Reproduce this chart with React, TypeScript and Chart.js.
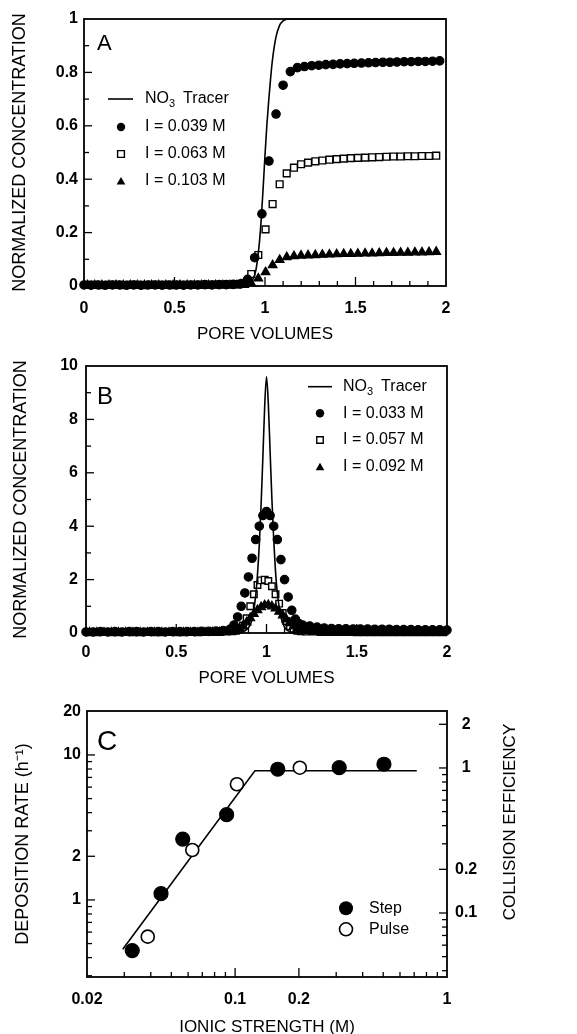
import React, { useEffect, useRef } from "react";
import { Chart, registerables } from "chart.js";

Chart.register(...registerables);

const FONT = "'Liberation Sans', Arial, Helvetica, sans-serif";
Chart.defaults.font.family = FONT;
Chart.defaults.color = "#000";

// ---------------- Panel A (step input) ----------------
const A_X = [0, 0.039, 0.079, 0.118, 0.157, 0.197, 0.236, 0.275, 0.314, 0.354, 0.393, 0.432, 0.472, 0.511, 0.55, 0.59, 0.629, 0.668, 0.707, 0.747, 0.786, 0.825, 0.865, 0.904, 0.943, 0.983, 1.022, 1.061, 1.1, 1.14, 1.179, 1.218, 1.258, 1.297, 1.336, 1.376, 1.415, 1.454, 1.493, 1.533, 1.572, 1.611, 1.651, 1.69, 1.729, 1.769, 1.808, 1.847, 1.886, 1.926, 1.965];
const A_I039 = [0.004, 0.003, 0.004, 0.003, 0.004, 0.004, 0.003, 0.004, 0.003, 0.004, 0.004, 0.003, 0.004, 0.004, 0.003, 0.004, 0.004, 0.005, 0.004, 0.005, 0.005, 0.006, 0.008, 0.025, 0.106, 0.27, 0.468, 0.644, 0.752, 0.803, 0.818, 0.822, 0.825, 0.827, 0.829, 0.83, 0.832, 0.833, 0.834, 0.835, 0.836, 0.837, 0.838, 0.838, 0.839, 0.84, 0.84, 0.841, 0.841, 0.842, 0.843];
const A_X2 = [0.02, 0.059, 0.099, 0.138, 0.177, 0.217, 0.256, 0.295, 0.334, 0.374, 0.413, 0.452, 0.492, 0.531, 0.57, 0.61, 0.649, 0.688, 0.727, 0.767, 0.806, 0.845, 0.885, 0.924, 0.963, 1.003, 1.042, 1.081, 1.12, 1.16, 1.199, 1.238, 1.278, 1.317, 1.356, 1.396, 1.435, 1.474, 1.513, 1.553, 1.592, 1.631, 1.671, 1.71, 1.749, 1.789, 1.828, 1.867, 1.906, 1.946];
const A_I063 = [0.004, 0.004, 0.003, 0.004, 0.004, 0.003, 0.004, 0.004, 0.003, 0.004, 0.004, 0.004, 0.003, 0.004, 0.004, 0.004, 0.004, 0.004, 0.005, 0.005, 0.005, 0.006, 0.012, 0.045, 0.116, 0.212, 0.307, 0.381, 0.422, 0.443, 0.456, 0.462, 0.467, 0.47, 0.473, 0.475, 0.477, 0.479, 0.48, 0.481, 0.482, 0.483, 0.484, 0.485, 0.485, 0.486, 0.486, 0.487, 0.487, 0.488];
const A_I103 = [0.003, 0.003, 0.003, 0.003, 0.003, 0.003, 0.003, 0.003, 0.003, 0.003, 0.003, 0.003, 0.003, 0.003, 0.003, 0.003, 0.003, 0.003, 0.003, 0.003, 0.003, 0.003, 0.004, 0.01, 0.028, 0.052, 0.078, 0.098, 0.108, 0.112, 0.114, 0.115, 0.116, 0.117, 0.118, 0.119, 0.12, 0.12, 0.121, 0.122, 0.122, 0.123, 0.124, 0.124, 0.125, 0.125, 0.126, 0.126, 0.127, 0.128];
const A_TRACER_X = [0, 0.88, 0.91, 0.93, 0.95, 0.97, 0.98, 0.99, 1.0, 1.01, 1.02, 1.03, 1.04, 1.06, 1.08, 1.1, 1.13, 1.2, 2];
const A_TRACER_Y = [0, 0, 0.005, 0.02, 0.06, 0.17, 0.26, 0.37, 0.49, 0.6, 0.69, 0.77, 0.84, 0.93, 0.975, 0.993, 1, 1, 1];
const A_X_TICKS = [0, 0.5, 1, 1.5, 2];
const A_Y_TICKS = [0, 0.2, 0.4, 0.6, 0.8, 1];
const A_X_MAJOR = [0.5, 1, 1.5];
const A_X_MINOR = [0.1, 0.2, 0.3, 0.4, 0.6, 0.7, 0.8, 0.9, 1.1, 1.2, 1.3, 1.4, 1.6, 1.7, 1.8, 1.9];
const A_Y_MAJOR = [0.2, 0.4, 0.6, 0.8];
const A_Y_MINOR = [0.1, 0.3, 0.5, 0.7, 0.9];

// ---------------- Panel B (pulse input) ----------------
const B_X = [0, 0.04, 0.08, 0.12, 0.16, 0.2, 0.24, 0.28, 0.32, 0.36, 0.4, 0.44, 0.48, 0.52, 0.56, 0.6, 0.64, 0.68, 0.72, 0.76, 0.8, 0.82, 0.84, 0.86, 0.88, 0.9, 0.92, 0.94, 0.96, 0.98, 1.0, 1.02, 1.04, 1.06, 1.08, 1.1, 1.12, 1.14, 1.16, 1.18, 1.2, 1.24, 1.28, 1.32, 1.36, 1.4, 1.44, 1.48, 1.52, 1.56, 1.6, 1.64, 1.68, 1.72, 1.76, 1.8, 1.84, 1.88, 1.92, 1.96, 2.0];
const B_I033 = [0.04, 0.04, 0.05, 0.04, 0.05, 0.04, 0.05, 0.05, 0.04, 0.05, 0.05, 0.04, 0.05, 0.05, 0.05, 0.05, 0.06, 0.06, 0.07, 0.09, 0.15, 0.3, 0.6, 1.0, 1.5, 2.1, 2.8, 3.5, 4.0, 4.4, 4.55, 4.4, 4.0, 3.5, 2.75, 2.0, 1.35, 0.85, 0.52, 0.35, 0.3, 0.26, 0.22, 0.19, 0.17, 0.16, 0.16, 0.15, 0.15, 0.15, 0.14, 0.14, 0.14, 0.13, 0.13, 0.13, 0.12, 0.12, 0.12, 0.12, 0.11];
const B_X2 = [0.02, 0.06, 0.1, 0.14, 0.18, 0.22, 0.26, 0.3, 0.34, 0.38, 0.42, 0.46, 0.5, 0.54, 0.58, 0.62, 0.66, 0.7, 0.74, 0.78, 0.81, 0.83, 0.85, 0.87, 0.89, 0.91, 0.93, 0.95, 0.97, 0.99, 1.01, 1.03, 1.05, 1.07, 1.09, 1.11, 1.13, 1.15, 1.17, 1.19, 1.22, 1.26, 1.3, 1.34, 1.38, 1.42, 1.46, 1.5, 1.54, 1.58, 1.62, 1.66, 1.7, 1.74, 1.78, 1.82, 1.86, 1.9, 1.94, 1.98];
const B_I057 = [0.03, 0.03, 0.04, 0.03, 0.03, 0.04, 0.03, 0.03, 0.04, 0.03, 0.03, 0.04, 0.03, 0.03, 0.04, 0.03, 0.04, 0.04, 0.04, 0.05, 0.06, 0.08, 0.14, 0.28, 0.55, 1.0, 1.45, 1.8, 1.97, 2.0, 1.95, 1.75, 1.45, 1.1, 0.75, 0.45, 0.25, 0.14, 0.08, 0.06, 0.05, 0.05, 0.04, 0.04, 0.04, 0.04, 0.04, 0.03, 0.03, 0.03, 0.03, 0.03, 0.03, 0.03, 0.03, 0.03, 0.03, 0.03, 0.03, 0.03];
const B_I092 = [0.02, 0.02, 0.02, 0.02, 0.02, 0.02, 0.02, 0.02, 0.02, 0.02, 0.02, 0.02, 0.02, 0.02, 0.02, 0.02, 0.02, 0.03, 0.03, 0.04, 0.06, 0.1, 0.16, 0.26, 0.4, 0.56, 0.72, 0.86, 0.97, 1.04, 1.05, 1.0, 0.92, 0.8, 0.66, 0.51, 0.37, 0.25, 0.16, 0.1, 0.07, 0.05, 0.04, 0.04, 0.03, 0.03, 0.03, 0.03, 0.03, 0.03, 0.03, 0.03, 0.03, 0.03, 0.03, 0.03, 0.03, 0.03, 0.03, 0.03];
const B_TRACER_X = [0, 0.85, 0.88, 0.9, 0.92, 0.94, 0.95, 0.96, 0.97, 0.98, 0.99, 1.0, 1.01, 1.02, 1.03, 1.04, 1.05, 1.06, 1.08, 1.1, 1.12, 1.15, 2.0];
const B_TRACER_Y = [0.02, 0.02, 0.08, 0.2, 0.5, 1.4, 2.2, 3.3, 4.8, 6.6, 8.5, 9.6, 8.6, 6.8, 5.0, 3.5, 2.3, 1.5, 0.6, 0.22, 0.08, 0.03, 0.02];
const B_X_TICKS = [0, 0.5, 1, 1.5, 2];
const B_Y_TICKS = [0, 2, 4, 6, 8, 10];
const B_X_MAJOR = [0.5, 1, 1.5];
const B_X_MINOR = [0.1, 0.2, 0.3, 0.4, 0.6, 0.7, 0.8, 0.9, 1.1, 1.2, 1.3, 1.4, 1.6, 1.7, 1.8, 1.9];
const B_Y_MAJOR = [2, 4, 6, 8];
const B_Y_MINOR = [1, 3, 5, 7, 9];

// ---------------- Panel C (deposition rate vs ionic strength) ----------------
const C_STEP_X = [0.0327, 0.0447, 0.0566, 0.0912, 0.159, 0.31, 0.504];
const C_STEP_Y = [0.447, 1.105, 2.63, 3.87, 7.97, 8.17, 8.63];
const C_PULSE_X = [0.0387, 0.0628, 0.102, 0.202];
const C_PULSE_Y = [0.558, 2.21, 6.28, 8.17];
const C_FIT_X = [0.0295, 0.124, 0.72];
const C_FIT_Y = [0.457, 7.79, 7.79];
const C_X_TICKS = [0.02, 0.1, 0.2, 1];
const C_Y_TICKS = [1, 2, 10, 20];
const C_Y2_TICKS = [0.1, 0.2, 1, 2];
const C_X_MAJOR = [0.1, 0.2];
const C_X_MINOR = [0.03, 0.04, 0.05, 0.06, 0.07, 0.08, 0.09, 0.3, 0.4, 0.5, 0.6, 0.7, 0.8, 0.9];
const C_Y_MAJOR = [1, 2, 10];
const C_Y_MINOR = [0.3, 0.4, 0.5, 0.6, 0.7, 0.8, 0.9, 3, 4, 5, 6, 7, 8, 9];
const C_Y2_MAJOR = [0.1, 0.2, 1, 2];
const C_Y2_MINOR = [0.04, 0.05, 0.06, 0.07, 0.08, 0.09, 0.3, 0.4, 0.5, 0.6, 0.7, 0.8, 0.9];

// ---------------- helpers ----------------
const pts = (xs: number[], ys: number[]) => xs.map((x, i) => ({ x, y: ys[i] }));

function markerDs(label: string, xs: number[], ys: number[], style: string, filled: boolean, r: number, bw = 1.2) {
  return {
    label,
    data: pts(xs, ys),
    showLine: false,
    pointStyle: style,
    pointRadius: r,
    pointHoverRadius: r,
    pointBackgroundColor: filled ? "#000" : "#fff",
    pointBorderColor: "#000",
    pointBorderWidth: bw,
    clip: false as any,
  };
}

function lineDs(label: string, xs: number[], ys: number[], smooth: boolean) {
  return {
    label,
    data: pts(xs, ys),
    showLine: true,
    pointRadius: 0,
    borderColor: "#000",
    borderWidth: 1.6,
    backgroundColor: "#000",
    cubicInterpolationMode: smooth ? "monotone" : "default",
    tension: 0,
    clip: false as any,
  };
}

function drawShape(ctx: CanvasRenderingContext2D, kind: string, x: number, y: number, r: number) {
  ctx.beginPath();
  if (kind === "circle" || kind === "ocircle") {
    ctx.arc(x, y, r, 0, Math.PI * 2);
  } else if (kind === "rect") {
    const h = r * Math.SQRT1_2;
    ctx.rect(x - h, y - h, 2 * h, 2 * h);
  } else if (kind === "triangle") {
    let a = 0;
    ctx.moveTo(x + Math.sin(a) * r, y - Math.cos(a) * r);
    a += (2 * Math.PI) / 3;
    ctx.lineTo(x + Math.sin(a) * r, y - Math.cos(a) * r);
    a += (2 * Math.PI) / 3;
    ctx.lineTo(x + Math.sin(a) * r, y - Math.cos(a) * r);
    ctx.closePath();
  }
  if (kind === "ocircle" || kind === "rect") {
    ctx.fillStyle = "#fff";
    ctx.fill();
    ctx.lineWidth = kind === "ocircle" ? 1.6 : 1.4;
    ctx.strokeStyle = "#000";
    ctx.stroke();
  } else {
    ctx.fillStyle = "#000";
    ctx.fill();
  }
}

const framePlugin = {
  id: "frameTicks",
  afterDraw(chart: any, _args: any, opts: any) {
    const { ctx, chartArea: ca } = chart;
    ctx.save();
    ctx.strokeStyle = "#000";
    ctx.lineWidth = 1.8;
    ctx.strokeRect(ca.left, ca.top, ca.right - ca.left, ca.bottom - ca.top);
    ctx.lineWidth = 1.3;
    for (const m of opts.marks || []) {
      const s = chart.scales[m.scale];
      for (const v of m.values) {
        const p = s.getPixelForValue(v);
        ctx.beginPath();
        if (m.side === "bottom") {
          ctx.moveTo(p, ca.bottom);
          ctx.lineTo(p, ca.bottom - m.len);
        } else if (m.side === "left") {
          ctx.moveTo(ca.left, p);
          ctx.lineTo(ca.left + m.len, p);
        } else {
          ctx.moveTo(ca.right, p);
          ctx.lineTo(ca.right - m.len, p);
        }
        ctx.stroke();
      }
    }
    // legend
    for (const it of opts.legend || []) {
      if (it.kind === "line") {
        ctx.beginPath();
        ctx.lineWidth = 1.6;
        ctx.moveTo(it.x1, it.y);
        ctx.lineTo(it.x2, it.y);
        ctx.stroke();
      } else {
        drawShape(ctx, it.kind, it.x, it.y, it.r);
      }
    }
    // texts
    for (const t of opts.texts || []) {
      ctx.save();
      ctx.fillStyle = "#000";
      ctx.textAlign = t.align || "left";
      ctx.textBaseline = t.baseline || "middle";
      ctx.translate(t.x, t.y);
      if (t.rotate) ctx.rotate(t.rotate);
      let cx = 0;
      for (const part of t.parts) {
        ctx.font = part.font || t.font;
        ctx.fillText(part.text, cx, part.dy || 0);
        cx += ctx.measureText(part.text).width + (part.gap || 0);
      }
      ctx.restore();
    }
    ctx.restore();
  },
};

const TICK_FONT = { family: FONT, size: 16, weight: "bold" as const };
const XTITLE_FONT = { family: FONT, size: 17, lineHeight: 1 };
const YTITLE_FONT = { family: FONT, size: 18, lineHeight: 1 };
const LEG_FONT = "16px " + FONT;
const SUB_FONT = "11px " + FONT;

function fixedTicks(values: number[]) {
  return (s: any) => {
    s.ticks = values.map((v) => ({ value: v }));
  };
}

function linearAxis(min: number, max: number, ticks: number[], fitKey: "width" | "height", size: number, padding: number, title: string, titlePad: any, titleFont: any) {
  return {
    type: "linear",
    min,
    max,
    afterBuildTicks: fixedTicks(ticks),
    afterFit: (s: any) => {
      s[fitKey] = size;
    },
    grid: { display: false, drawTicks: false },
    border: { display: false },
    ticks: { padding, font: TICK_FONT, color: "#000", autoSkip: false, maxRotation: 0, callback: (v: any) => String(v) },
    title: { display: true, text: title, font: titleFont, color: "#000", padding: titlePad },
  };
}

function legendTexts(x: number, rows: number[], labels: string[]) {
  const out: any[] = [
    {
      x,
      y: rows[0],
      font: LEG_FONT,
      parts: [
        { text: "NO" },
        { text: "3", font: SUB_FONT, dy: 5, gap: 8 },
        { text: "Tracer" },
      ],
    },
  ];
  labels.forEach((l, i) => out.push({ x, y: rows[i + 1], font: LEG_FONT, parts: [{ text: l }] }));
  return out;
}

function configA(): any {
  const rows = [99, 127, 154, 181];
  return {
    type: "scatter",
    data: {
      datasets: [
        lineDs("NO3 Tracer", A_TRACER_X, A_TRACER_Y, true),
        markerDs("I = 0.039 M", A_X, A_I039, "circle", true, 4.2),
        markerDs("I = 0.103 M", A_X2, A_I103, "triangle", true, 5),
        markerDs("I = 0.063 M", A_X2, A_I063, "rect", false, 4.8, 1.4),
      ],
    },
    options: {
      responsive: false,
      animation: false,
      events: [],
      layout: { padding: { top: 19, left: 0, right: 131, bottom: 2.5 } },
      scales: {
        x: linearAxis(0, 2, A_X_TICKS, "height", 56.5, 12.7, "PORE VOLUMES", { top: 0, bottom: 0 }, XTITLE_FONT),
        y: linearAxis(0, 1, A_Y_TICKS, "width", 84, 6, "NORMALIZED CONCENTRATION", { top: 11, bottom: 0 }, YTITLE_FONT),
      },
      plugins: {
        legend: { display: false },
        tooltip: { enabled: false },
        frameTicks: {
          marks: [
            { scale: "x", side: "bottom", values: A_X_MAJOR, len: 9 },
            { scale: "x", side: "bottom", values: A_X_MINOR, len: 5 },
            { scale: "y", side: "left", values: A_Y_MAJOR, len: 8 },
            { scale: "y", side: "left", values: A_Y_MINOR, len: 5 },
          ],
          legend: [
            { kind: "line", x1: 108, x2: 133, y: rows[0] },
            { kind: "circle", x: 121, y: rows[1], r: 4.2 },
            { kind: "rect", x: 121, y: rows[2], r: 4.8 },
            { kind: "triangle", x: 121, y: rows[3] + 1, r: 5 },
          ],
          texts: [
            { x: 97, y: 50, baseline: "alphabetic", font: "22px " + FONT, parts: [{ text: "A" }] },
            ...legendTexts(145, rows, ["I = 0.039 M", "I = 0.063 M", "I = 0.103 M"]),
          ],
        },
      },
    },
    plugins: [framePlugin],
  };
}

function configB(): any {
  const rows = [41.7, 68.3, 95, 121.7];
  return {
    type: "scatter",
    data: {
      datasets: [
        lineDs("NO3 Tracer", B_TRACER_X, B_TRACER_Y, true),
        markerDs("I = 0.033 M", B_X, B_I033, "circle", true, 4.2),
        markerDs("I = 0.092 M", B_X2, B_I092, "triangle", true, 5),
        markerDs("I = 0.057 M", B_X2, B_I057, "rect", false, 4.6, 1.4),
      ],
    },
    options: {
      responsive: false,
      animation: false,
      events: [],
      layout: { padding: { top: 21, left: 0, right: 130, bottom: 3.5 } },
      scales: {
        x: linearAxis(0, 2, B_X_TICKS, "height", 53.5, 10.4, "PORE VOLUMES", { top: 0, bottom: 0 }, XTITLE_FONT),
        y: linearAxis(0, 10, B_Y_TICKS, "width", 86, 8, "NORMALIZED CONCENTRATION", { top: 11.7, bottom: 0 }, YTITLE_FONT),
      },
      plugins: {
        legend: { display: false },
        tooltip: { enabled: false },
        frameTicks: {
          marks: [
            { scale: "x", side: "bottom", values: B_X_MAJOR, len: 9 },
            { scale: "x", side: "bottom", values: B_X_MINOR, len: 5 },
            { scale: "y", side: "left", values: B_Y_MAJOR, len: 8 },
            { scale: "y", side: "left", values: B_Y_MINOR, len: 5 },
          ],
          legend: [
            { kind: "line", x1: 308, x2: 332, y: rows[0] },
            { kind: "circle", x: 320, y: rows[1], r: 4.2 },
            { kind: "rect", x: 320, y: rows[2], r: 4.6 },
            { kind: "triangle", x: 320, y: rows[3] + 1, r: 5 },
          ],
          texts: [
            { x: 97, y: 59, baseline: "alphabetic", font: "24px " + FONT, parts: [{ text: "B" }] },
            ...legendTexts(343, rows, ["I = 0.033 M", "I = 0.057 M", "I = 0.092 M"]),
          ],
        },
      },
    },
    plugins: [framePlugin],
  };
}

function logAxis(position: string, min: number, max: number, ticks: number[], fitKey: "width" | "height", size: number, padding: number, title: string | null, titlePad: any, crossAlign = "near", titleFont: any = YTITLE_FONT) {
  return {
    type: "logarithmic",
    position,
    min,
    max,
    afterBuildTicks: fixedTicks(ticks),
    afterFit: (s: any) => {
      s[fitKey] = size;
    },
    grid: { display: false, drawTicks: false },
    border: { display: false },
    ticks: { padding, font: TICK_FONT, color: "#000", autoSkip: false, maxRotation: 0, crossAlign, callback: (v: any) => String(v) },
    title: { display: !!title, text: title || "", font: titleFont, color: "#000", padding: titlePad },
  };
}

function configC(): any {
  return {
    type: "scatter",
    data: {
      datasets: [
        markerDs("Step", C_STEP_X, C_STEP_Y, "circle", true, 7),
        markerDs("Pulse", C_PULSE_X, C_PULSE_Y, "circle", false, 6.5, 1.6),
        { ...lineDs("fit", C_FIT_X, C_FIT_Y, false), yAxisID: "y" },
      ],
    },
    options: {
      responsive: false,
      animation: false,
      events: [],
      layout: { padding: { top: 21, left: 0, right: 0, bottom: 0.2 } },
      scales: {
        x: logAxis("bottom", 0.02, 1, C_X_TICKS, "height", 56.8, 13.4, "IONIC STRENGTH (M)", { top: 0, bottom: 0 }, "near", { family: FONT, size: 17, lineHeight: 0.8 }),
        y: logAxis("left", 0.294, 20.1, C_Y_TICKS, "width", 87, 6, "DEPOSITION RATE (h\u207B\u00B9)", { top: 14, bottom: 0 }),
        y2: logAxis("right", 0.0362, 2.47, C_Y2_TICKS, "width", 130, 8, null, { top: 0, bottom: 0 }, "center"),
      },
      plugins: {
        legend: { display: false },
        tooltip: { enabled: false },
        frameTicks: {
          marks: [
            { scale: "x", side: "bottom", values: C_X_MAJOR, len: 9 },
            { scale: "x", side: "bottom", values: C_X_MINOR, len: 5 },
            { scale: "y", side: "left", values: C_Y_MAJOR, len: 8 },
            { scale: "y", side: "left", values: C_Y_MINOR, len: 5 },
            { scale: "y2", side: "right", values: C_Y2_MAJOR, len: 8 },
            { scale: "y2", side: "right", values: C_Y2_MINOR, len: 5 },
          ],
          legend: [
            { kind: "circle", x: 346, y: 218.3, r: 7 },
            { kind: "ocircle", x: 346, y: 239.3, r: 6.5 },
          ],
          texts: [
            { x: 97, y: 60, baseline: "alphabetic", font: "28px " + FONT, parts: [{ text: "C" }] },
            { x: 369, y: 218.3, font: LEG_FONT, parts: [{ text: "Step" }] },
            { x: 369, y: 239.3, font: LEG_FONT, parts: [{ text: "Pulse" }] },
            { x: 510, y: 132, rotate: -Math.PI / 2, align: "center", font: "17px " + FONT, parts: [{ text: "COLLISION EFFICIENCY" }] },
          ],
        },
      },
    },
    plugins: [framePlugin],
  };
}

function Panel({ top, height, make }: { top: number; height: number; make: () => any }) {
  const ref = useRef<HTMLCanvasElement>(null);
  useEffect(() => {
    const chart = new Chart(ref.current as HTMLCanvasElement, make());
    return () => chart.destroy();
  }, []);
  return (
    <canvas
      ref={ref}
      width={577}
      height={height}
      style={{ position: "absolute", left: 0, top, width: 577, height }}
    />
  );
}

export default function App() {
  return (
    <div style={{ position: "absolute", left: 0, top: 0, width: 577, height: 1034, background: "#fff", overflow: "hidden" }}>
      <Panel top={0} height={345} make={configA} />
      <Panel top={345} height={345} make={configB} />
      <Panel top={690} height={344} make={configC} />
    </div>
  );
}
